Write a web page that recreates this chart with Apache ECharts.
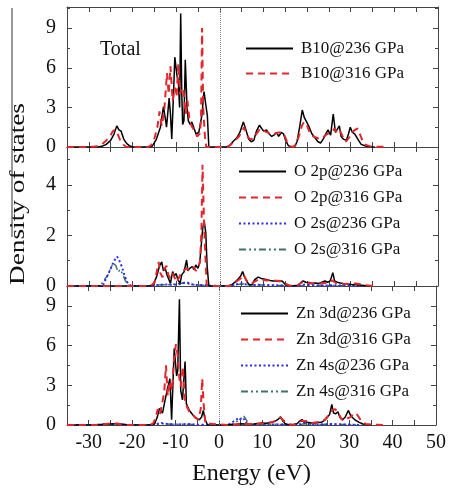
<!DOCTYPE html>
<html>
<head>
<meta charset="utf-8">
<script src="https://cdn.jsdelivr.net/npm/echarts@6/dist/echarts.min.js"></script>
<style>
  html, body { margin: 0; padding: 0; background: #fff; }
  #chart { width: 449px; height: 491px; }
</style>
</head>
<body>
<div id="chart"></div>
<script>
// x tick labels (Energy, eV)
const xTicks = [-30, -20, -10, 0, 10, 20, 30, 40, 50];

// panel 1: total DOS  [energy, dos]
const b10_236 = [[-35,0],[-28,0],[-27,0.05],[-26,0.2],[-25,0.5],[-24.2,1.0],[-23.6,1.6],[-23.1,1.3],[-22.6,1.2],[-22,0.6],[-21.3,0.25],[-20.5,0.05],[-19.8,0],
  [-16,0],[-15.5,0.05],[-14.5,0.6],[-13.6,1.5],[-12.9,3.05],[-12.5,2.2],[-12.2,1.5],[-11.6,3.7],[-11.3,2.5],[-11.0,0.6],[-10.6,4.0],[-10.3,6.8],[-9.8,5.4],[-9.5,5.0],[-9.2,3.0],[-8.95,10.1],[-8.7,4.0],[-8.5,1.7],[-8.2,2.0],[-7.9,6.6],[-7.5,3.0],[-7.2,2.0],[-6.8,1.7],[-6.4,1.9],[-5.9,1.4],[-5.45,1.0],[-4.8,1.1],[-4.1,2.4],[-3.6,4.2],[-3.2,3.2],[-2.85,2.4],[-2.5,0],
  [1.5,0],[2.2,0.1],[3,0.4],[3.9,0.7],[4.6,1.1],[5.4,1.9],[6,1.3],[6.6,0.6],[7.2,0.4],[7.8,0.5],[8.4,1.2],[9.1,1.65],[9.6,1.4],[10.1,1.2],[10.7,1.3],[11.3,1.0],[11.9,0.8],[12.4,0.9],[13.0,1.1],[13.5,0.8],[14.1,1.1],[14.6,1.0],[15.1,0.5],[15.7,0.1],[16.3,0],[17.2,0.05],[17.7,0.4],[18.3,1.5],[18.9,2.8],[19.4,2.2],[19.9,1.9],[20.5,1.5],[21.1,1.0],[21.8,0.7],[22.5,0.4],[23.1,0.3],[23.7,0.6],[24.3,1.0],[24.8,1.3],[25.4,0.9],[26.0,2.5],[26.5,1.1],[26.9,1.2],[27.4,1.6],[27.8,0.8],[28.3,0.6],[29.0,0.5],[29.5,1.0],[29.9,1.5],[30.4,1.1],[30.9,1.0],[31.3,1.0],[31.8,0.5],[32.4,0.2],[33.4,0.08],[34.5,0.02],[35.5,0]];
const b10_316 = [[-35,0],[-30.5,0],[-29,0.02],[-28,0.05],[-27,0.2],[-26,0.5],[-25,0.9],[-24.5,1.2],[-24,1.3],[-23.4,1.0],[-22.8,0.5],[-22,0.15],[-21.5,0.02],[-20.8,0],
  [-16.5,0],[-15.8,0.1],[-15,0.6],[-14.3,1.5],[-13.8,2.7],[-13.3,1.6],[-12.7,2.8],[-12.1,5.6],[-11.7,4.0],[-11.3,6.1],[-10.8,3.5],[-10.3,4.5],[-9.9,3.8],[-9.5,6.3],[-9.1,4.0],[-8.7,4.5],[-8.3,4.3],[-7.8,2.5],[-7.4,3.5],[-6.9,1.9],[-6.3,1.5],[-5.7,1.2],[-5.2,0.8],[-4.6,1.0],[-4.3,2.0],[-4.05,9.0],[-3.8,3.0],[-3.4,0.8],[-3.1,0],
  [1.8,0],[2.6,0.2],[3.5,0.5],[4.4,0.8],[5.1,1.2],[5.6,1.5],[6.2,0.9],[6.9,0.6],[7.6,0.6],[8.4,1.0],[9.3,1.4],[10.2,1.2],[11,1.1],[11.8,0.9],[12.6,1.0],[13.4,1.1],[14.2,1.1],[14.8,0.9],[15.4,0.4],[16.1,0.05],[16.8,0],[17.5,0.2],[18.2,0.9],[18.8,1.6],[19.3,1.9],[19.9,1.7],[20.6,1.1],[21.4,0.8],[22.2,0.7],[23.0,0.6],[23.9,0.8],[24.7,1.0],[25.6,1.1],[26.3,1.4],[27.0,1.0],[27.6,1.2],[28.3,0.7],[28.9,0.4],[29.6,0.7],[30.3,1.1],[31.0,1.3],[31.6,1.4],[32.2,0.9],[32.8,0.4],[33.5,0.15],[34.5,0.05],[36,0.02],[38,0.01],[38.5,0]];

// panel 2: O partial DOS
const o2p_236 = [[-35,0],[-16,0],[-15.3,0.05],[-14.5,0.35],[-13.8,0.8],[-13.3,0.95],[-12.9,0.6],[-12.5,0.7],[-12.1,0.45],[-11.8,0.5],[-11.3,0.1],[-10.8,0.57],[-10.4,0.4],[-10.0,0.5],[-9.6,0.25],[-9.1,0.1],[-8.7,0.45],[-8.2,0.55],[-7.6,1.03],[-7.3,0.6],[-6.9,0.7],[-6.3,0.77],[-5.9,0.65],[-5.5,0.83],[-5.0,0.7],[-4.6,0.9],[-4.2,1.7],[-3.9,2.3],[-3.55,2.55],[-3.2,2.1],[-2.9,0.8],[-2.5,0],
  [1.8,0],[2.7,0.05],[3.5,0.15],[4.3,0.3],[4.8,0.4],[5.25,0.57],[5.7,0.35],[6.3,0.15],[6.8,0.05],[7.4,0.05],[8.0,0.25],[8.8,0.35],[9.5,0.3],[10.1,0.28],[10.8,0.25],[11.5,0.22],[12.2,0.2],[13.0,0.2],[13.7,0.18],[14.3,0.2],[14.9,0.08],[15.6,0.02],[16.5,0],[17.8,0.02],[18.5,0.12],[19.1,0.2],[19.7,0.15],[20.4,0.14],[21.1,0.1],[21.9,0.12],[22.7,0.1],[23.4,0.15],[24.1,0.2],[24.7,0.15],[25.3,0.2],[25.9,0.53],[26.3,0.2],[26.9,0.15],[27.6,0.12],[28.3,0.1],[29.2,0.08],[30.2,0.06],[31.2,0.05],[32.4,0.03],[33.6,0.01],[34.5,0]];
const o2p_316 = [[-35,0],[-16.3,0],[-15.5,0.05],[-14.9,0.15],[-14.4,0.6],[-14.0,0.95],[-13.6,0.5],[-13.1,0.35],[-12.6,0.7],[-12.2,0.8],[-11.8,0.45],[-11.3,0.3],[-10.8,0.5],[-10.4,0.35],[-9.9,0.15],[-9.5,0.2],[-9.0,0.45],[-8.5,0.6],[-8.0,0.65],[-7.5,0.7],[-7.0,0.6],[-6.5,0.7],[-6.0,0.75],[-5.5,0.6],[-5.0,0.7],[-4.5,1.0],[-4.2,2.2],[-3.95,4.8],[-3.6,2.5],[-3.3,1.2],[-3.0,0.1],[-2.8,0],
  [2.2,0],[3.1,0.1],[4.0,0.2],[4.8,0.3],[5.5,0.45],[6.0,0.25],[6.7,0.1],[7.5,0.12],[8.3,0.2],[9.1,0.28],[9.9,0.25],[10.8,0.22],[11.7,0.25],[12.6,0.22],[13.5,0.2],[14.3,0.2],[15.0,0.1],[15.8,0.03],[16.8,0],[17.8,0.03],[18.6,0.12],[19.4,0.18],[20.2,0.12],[21.0,0.1],[21.8,0.1],[22.6,0.08],[23.5,0.12],[24.3,0.12],[25.1,0.15],[25.8,0.22],[26.6,0.12],[27.5,0.1],[28.4,0.08],[29.3,0.08],[30.2,0.1],[31.1,0.1],[32.0,0.08],[33.0,0.04],[34.2,0.02],[35.5,0]];
const o2s_236 = [[-35,0],[-27.5,0],[-26.7,0.05],[-25.9,0.35],[-25.2,0.6],[-24.6,0.85],[-24.0,1.05],[-23.5,1.16],[-23.0,1.0],[-22.4,0.75],[-21.8,0.4],[-21.2,0.15],[-20.6,0.03],[-20,0],
  [-15.5,0],[-14.5,0.03],[-13.5,0.05],[-12.5,0.06],[-11.5,0.05],[-10.5,0.05],[-9.5,0.06],[-8.5,0.1],[-7.8,0.16],[-7.2,0.12],[-6.5,0.07],[-5.5,0.04],[-4.5,0.03],[-3.5,0.04],[-2.8,0.01],[-2.5,0],
  [2,0],[3,0.03],[4,0.07],[5,0.1],[5.8,0.07],[6.5,0.04],[8,0.04],[9.5,0.05],[11,0.03],[12.5,0.03],[14,0.02],[16,0],[18.5,0.02],[19.5,0.06],[20.5,0.04],[22,0.02],[24,0.02],[26,0.03],[28,0.02],[30,0.01],[32,0]];
const o2s_316 = [[-35,0],[-28,0],[-27.2,0.05],[-26.4,0.25],[-25.6,0.45],[-24.9,0.75],[-24.3,0.9],[-23.8,0.8],[-23.3,0.55],[-22.8,0.65],[-22.2,0.45],[-21.6,0.2],[-21,0.05],[-20.4,0],
  [-16,0],[-15,0.02],[-14,0.04],[-13,0.05],[-12,0.05],[-11,0.06],[-10,0.08],[-9.2,0.1],[-8.5,0.12],[-7.8,0.1],[-7,0.08],[-6,0.05],[-5,0.04],[-4,0.03],[-3,0.01],[-2.7,0],
  [2,0],[3.5,0.04],[4.5,0.07],[5.5,0.08],[6.5,0.05],[8,0.04],[10,0.04],[12,0.03],[14,0.02],[16,0],[18.5,0.01],[20,0.03],[22,0.02],[25,0.02],[28,0.01],[31,0]];

// panel 3: Zn partial DOS
const zn3d_236 = [[-35,0],[-28,0],[-27,0.03],[-26,0.06],[-25,0.08],[-24,0.1],[-23.2,0.12],[-22.5,0.08],[-21.5,0.03],[-20.5,0],
  [-15.5,0],[-14.8,0.1],[-14.2,0.6],[-13.7,1.26],[-13.3,1.4],[-13.0,0.9],[-12.4,1.9],[-11.8,2.8],[-11.3,3.5],[-10.9,0.4],[-10.3,5.8],[-9.75,3.7],[-9.5,4.1],[-9.1,9.5],[-8.8,2.6],[-8.4,1.9],[-7.8,4.8],[-7.5,1.6],[-6.8,1.1],[-6.0,0.75],[-5.3,0.5],[-4.5,0.4],[-4.0,0.6],[-3.6,1.1],[-3.2,0.4],[-2.6,0],
  [2,0],[3,0.03],[4,0.06],[5,0.1],[6,0.08],[7,0.06],[8,0.08],[9,0.12],[10,0.15],[11,0.14],[12,0.2],[13,0.3],[13.7,0.45],[14.2,0.62],[14.7,0.3],[15.3,0.1],[16,0.03],[17,0.02],[18,0.1],[18.6,0.3],[19.1,0.4],[19.7,0.25],[20.4,0.2],[21.2,0.15],[22,0.15],[22.8,0.18],[23.6,0.2],[24.3,0.35],[24.9,0.55],[25.5,0.8],[26.0,1.55],[26.4,0.9],[26.9,0.85],[27.4,1.0],[27.9,0.55],[28.5,0.4],[29.1,0.6],[29.8,1.1],[30.3,0.75],[30.8,0.55],[31.5,0.35],[32.3,0.2],[33.2,0.08],[34.2,0.02],[35,0]];
const zn3d_316 = [[-35,0],[-28.5,0],[-27.5,0.03],[-26.5,0.06],[-25.5,0.1],[-24.5,0.14],[-23.8,0.12],[-23,0.08],[-22,0.03],[-21,0],
  [-16,0],[-15.2,0.1],[-14.6,0.5],[-14.1,1.2],[-13.6,0.8],[-13.1,1.6],[-12.6,2.5],[-12.2,4.5],[-11.8,2.2],[-11.3,3.3],[-10.8,2.6],[-10.4,4.8],[-9.9,6.1],[-9.5,5.2],[-9.1,3.5],[-8.8,2.9],[-8.3,4.4],[-7.9,2.0],[-7.4,1.4],[-6.8,1.0],[-6.1,0.8],[-5.4,0.55],[-4.7,0.45],[-4.2,1.2],[-3.85,3.5],[-3.5,1.5],[-3.1,0.1],[-2.9,0],
  [2.5,0],[3.5,0.03],[5,0.06],[6.5,0.08],[8,0.08],[9.5,0.12],[11,0.15],[12.3,0.2],[13.3,0.35],[14.0,0.55],[14.6,0.45],[15.3,0.15],[16.2,0.03],[17.2,0.02],[18.2,0.15],[19,0.3],[19.8,0.3],[20.6,0.2],[21.5,0.15],[22.5,0.2],[23.5,0.25],[24.4,0.4],[25.2,0.7],[26.0,1.1],[26.8,1.2],[27.5,0.9],[28.2,0.45],[28.9,0.3],[29.6,0.5],[30.3,0.6],[31.0,0.85],[31.6,0.9],[32.2,0.6],[32.9,0.25],[33.8,0.08],[35,0.03],[36.5,0.02],[38,0]];
const zn4s_236 = [[-35,0],[-28,0],[-27,0.05],[-26,0.08],[-25,0.07],[-24,0.06],[-23,0.04],[-22,0.02],[-21,0],
  [-16,0],[-15,0.03],[-14,0.1],[-13.2,0.15],[-12.5,0.1],[-11.5,0.06],[-10.5,0.05],[-9.5,0.04],[-8.5,0.05],[-7.5,0.08],[-6.5,0.06],[-5.5,0.03],[-4,0.02],[-3,0.01],[-2.5,0],
  [1.5,0],[2.5,0.08],[3.3,0.25],[4.0,0.4],[4.6,0.55],[5.2,0.35],[5.8,0.45],[6.3,0.15],[7,0.05],[8.5,0.05],[10,0.04],[12,0.04],[14,0.05],[16,0.01],[18.5,0.05],[19.5,0.15],[20.5,0.08],[22,0.04],[24,0.04],[26,0.08],[28,0.05],[30,0.04],[32,0.01],[33,0]];
const zn4s_316 = [[-35,0],[-28.5,0],[-27.5,0.04],[-26.5,0.08],[-25.5,0.1],[-24.5,0.08],[-23.5,0.06],[-22.5,0.03],[-21.5,0],
  [-16,0],[-15,0.02],[-14,0.06],[-13,0.1],[-12,0.08],[-11,0.06],[-10,0.05],[-9,0.05],[-8,0.06],[-7,0.05],[-6,0.03],[-4,0.02],[-3,0],
  [2,0],[3,0.06],[3.8,0.2],[4.5,0.35],[5.2,0.55],[5.7,0.7],[6.2,0.45],[6.7,0.15],[7.5,0.05],[9,0.05],[11,0.04],[13,0.05],[15,0.03],[17,0.01],[19,0.05],[20,0.1],[21,0.05],[23,0.03],[25.5,0.06],[27.5,0.04],[30,0.03],[32,0]];

// y ranges and tick steps per panel
const yMax = [10.6, 5.5, 10.5];
const yStep = [3, 2, 3];

const font = "'Liberation Serif', 'Times New Roman', serif";
const frame = '#444';

const chart = echarts.init(document.getElementById('chart'));

// grids: 3 stacked panels sharing x
const grids = [
  { left: 67, right: 11, top: 7, height: 140 },
  { left: 67, right: 11, top: 147, height: 139 },
  { left: 67, right: 11, top: 286, height: 139 }
];

const xAxes = [];
const yAxes = [];
grids.forEach((g, i) => {
  const bottomLabels = i === 2;
  xAxes.push({
    type: 'value', gridIndex: i, position: 'bottom', min: -35, max: 50, interval: 5,
    axisLine: { onZero: false, lineStyle: { color: frame, width: 1 } },
    axisTick: { inside: true, length: 5, lineStyle: { color: frame } },
    splitLine: { show: false },
    axisLabel: {
      show: bottomLabels, margin: 8, fontSize: 20, fontFamily: font, color: '#111',
      formatter: v => (xTicks.indexOf(v) >= 0 ? String(v) : '')
    },
    name: bottomLabels ? 'Energy (eV)' : '',
    nameLocation: 'middle', nameGap: 37,
    nameTextStyle: { fontSize: 24, fontFamily: font, color: '#111' }
  });
  xAxes.push({
    type: 'value', gridIndex: i, position: 'top', min: -35, max: 50, interval: 5,
    axisLine: { onZero: false, lineStyle: { color: frame, width: 1 } },
    axisTick: { inside: true, length: 5, lineStyle: { color: frame } },
    splitLine: { show: false }, axisLabel: { show: false }
  });
  const step = yStep[i];
  yAxes.push({
    type: 'value', gridIndex: i, position: 'left', min: 0, max: yMax[i], interval: step,
    axisLine: { show: true, onZero: false, lineStyle: { color: frame, width: 1 } },
    axisTick: { show: true, inside: true, length: 5, lineStyle: { color: frame } },
    minorTick: { show: true, splitNumber: 2, length: 3, lineStyle: { color: frame } },
    splitLine: { show: false },
    axisLabel: {
      margin: 11, fontSize: 20, fontFamily: font, color: '#111',
      formatter: v => (Math.abs(v % step) < 1e-9 ? String(v) : '')
    }
  });
  yAxes.push({
    type: 'value', gridIndex: i, position: 'right', min: 0, max: yMax[i], interval: step,
    axisLine: { show: true, onZero: false, lineStyle: { color: frame, width: 1 } },
    axisTick: { show: true, inside: true, length: 5, lineStyle: { color: frame } },
    minorTick: { show: true, splitNumber: 2, length: 3, lineStyle: { color: frame } },
    splitLine: { show: false }, axisLabel: { show: false }
  });
});

const styles = {
  black: { color: '#000', width: 1.5, type: 'solid' },
  red: { color: '#e4262a', width: 2, type: [7, 5] },
  blue: { color: '#2b2bf0', width: 2, type: [2, 2.5] },
  teal: { color: '#3c7272', width: 1.5, type: [7, 3, 2, 3, 2, 3] }
};

const zeroLine = {
  silent: true, symbol: 'none', label: { show: false },
  lineStyle: { color: '#888', type: 'dotted', width: 1 },
  data: [{ xAxis: 0 }]
};

function line(name, data, panel, st, withZero) {
  const s = {
    name, type: 'line', data, xAxisIndex: panel * 2, yAxisIndex: panel * 2,
    symbol: 'none', showSymbol: false, smooth: false,
    lineStyle: st, itemStyle: { color: st.color }, z: 3
  };
  if (withZero) s.markLine = zeroLine;
  return s;
}

const series = [
  line('B10@236 GPa', b10_236, 0, styles.black, true),
  line('B10@316 GPa', b10_316, 0, styles.red),
  line('O 2s@316 GPa', o2s_316, 1, styles.teal, true),
  line('O 2s@236 GPa', o2s_236, 1, styles.blue),
  line('O 2p@236 GPa', o2p_236, 1, styles.black),
  line('O 2p@316 GPa', o2p_316, 1, styles.red),
  line('Zn 4s@316 GPa', zn4s_316, 2, styles.teal, true),
  line('Zn 4s@236 GPa', zn4s_236, 2, styles.blue),
  line('Zn 3d@236 GPa', zn3d_236, 2, styles.black),
  line('Zn 3d@316 GPa', zn3d_316, 2, styles.red)
];

function legend(names, left, top, gap) {
  return {
    data: names, orient: 'vertical', left, top,
    itemWidth: 47, itemHeight: 14, itemGap: gap,
    selectedMode: false,
    itemStyle: { opacity: 0 },
    textStyle: { fontSize: 17, fontFamily: font, color: '#111', padding: [0, 0, 0, 3] }
  };
}

const option = {
  animation: false,
  backgroundColor: '#fff',
  grid: grids,
  xAxis: xAxes,
  yAxis: yAxes,
  legend: [
    legend(['B10@236 GPa', 'B10@316 GPa'], 240, 35, 8),
    legend(['O 2p@236 GPa', 'O 2p@316 GPa', 'O 2s@236 GPa', 'O 2s@316 GPa'], 233, 158, 9),
    legend(['Zn 3d@236 GPa', 'Zn 3d@316 GPa', 'Zn 4s@236 GPa', 'Zn 4s@316 GPa'], 235, 300, 9)
  ],
  graphic: [
    { type: 'text', left: 100, top: 40, style: { text: 'Total', font: '20px ' + font, fill: '#111' } },
    {
      type: 'text', x: 18, y: 194, rotation: Math.PI / 2, scaleX: 1.3,
      style: { text: 'Density of states', font: '21px ' + font, fill: '#111', align: 'center', verticalAlign: 'middle' }
    },
    { type: 'line', shape: { x1: 12, y1: 8, x2: 12, y2: 237 }, style: { stroke: '#333', lineWidth: 1 } }
  ],
  series
};

chart.setOption(option);
window.addEventListener('resize', () => chart.resize());
</script>
</body>
</html>
